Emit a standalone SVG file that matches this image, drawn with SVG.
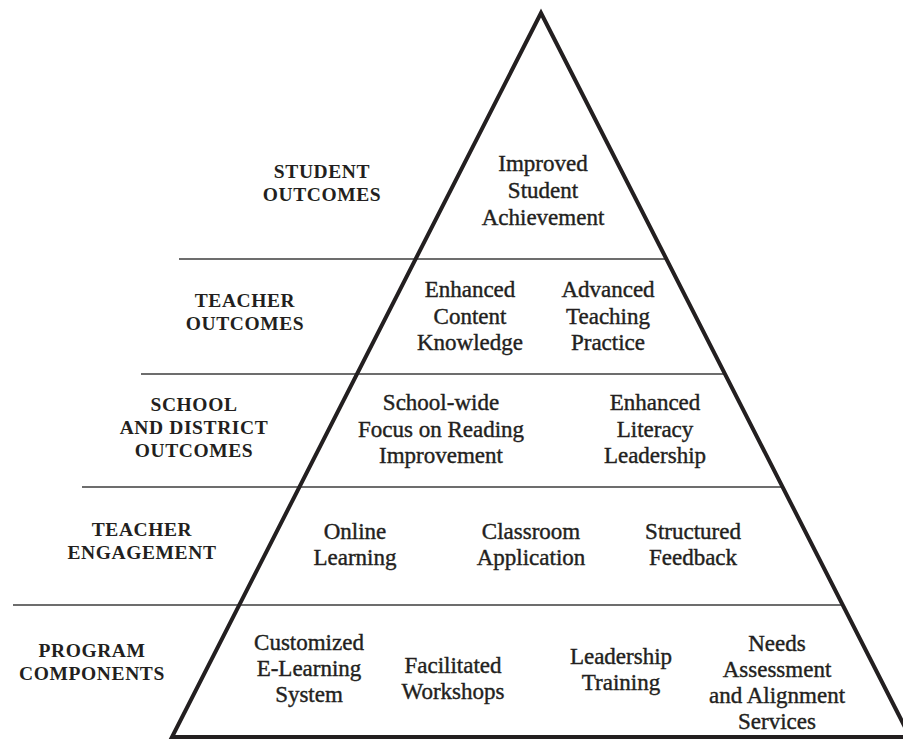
<svg xmlns="http://www.w3.org/2000/svg" width="903" height="741" viewBox="0 0 903 741">
<style>
.lbl{font-family:"Liberation Serif","Times New Roman",serif;font-weight:bold;font-size:19.5px;letter-spacing:0.6px;fill:#231f20;text-anchor:middle}
.in{font-family:"Liberation Serif","Times New Roman",serif;font-size:23px;fill:#231f20;stroke:#231f20;stroke-width:0.4;text-anchor:middle}
.div{stroke:#6d6d6d;stroke-width:2;fill:none}
</style>
<rect width="903" height="741" fill="#fff"/>
<g id="dividers">
<line class="div" x1="179" y1="259" x2="666" y2="259"/>
<line class="div" x1="141" y1="374" x2="725" y2="374"/>
<line class="div" x1="82" y1="487" x2="783" y2="487"/>
<line class="div" x1="13" y1="605" x2="843" y2="605"/>
</g>
<g id="pyramid">
<polygon points="541,13 172,737 910,737" fill="none" stroke="#231f20" stroke-width="4" stroke-linejoin="miter" stroke-miterlimit="20"/>
</g>
<g id="labels">
<text class="lbl"><tspan x="322" y="178">STUDENT</tspan><tspan x="322" y="201">OUTCOMES</tspan></text>
<text class="lbl"><tspan x="245" y="307">TEACHER</tspan><tspan x="245" y="330">OUTCOMES</tspan></text>
<text class="lbl"><tspan x="194" y="411">SCHOOL</tspan><tspan x="194" y="434">AND DISTRICT</tspan><tspan x="194" y="457">OUTCOMES</tspan></text>
<text class="lbl"><tspan x="142" y="536">TEACHER</tspan><tspan x="142" y="559">ENGAGEMENT</tspan></text>
<text class="lbl"><tspan x="92" y="657">PROGRAM</tspan><tspan x="92" y="680">COMPONENTS</tspan></text>
</g>
<g id="student-achievement">
<text class="in"><tspan x="543" y="171">Improved</tspan><tspan x="543" y="198">Student</tspan><tspan x="543" y="225">Achievement</tspan></text>
</g>
<g id="content-knowledge">
<text class="in"><tspan x="470" y="297">Enhanced</tspan><tspan x="470" y="324">Content</tspan><tspan x="470" y="350">Knowledge</tspan></text>
</g>
<g id="teaching-practice">
<text class="in"><tspan x="608" y="297">Advanced</tspan><tspan x="608" y="324">Teaching</tspan><tspan x="608" y="350">Practice</tspan></text>
</g>
<g id="school-wide-focus">
<text class="in"><tspan x="441" y="410">School-wide</tspan><tspan x="441" y="437">Focus on Reading</tspan><tspan x="441" y="463">Improvement</tspan></text>
</g>
<g id="literacy-leadership">
<text class="in"><tspan x="655" y="410">Enhanced</tspan><tspan x="655" y="437">Literacy</tspan><tspan x="655" y="463">Leadership</tspan></text>
</g>
<g id="online-learning">
<text class="in"><tspan x="355" y="539">Online</tspan><tspan x="355" y="565">Learning</tspan></text>
</g>
<g id="classroom-application">
<text class="in"><tspan x="531" y="539">Classroom</tspan><tspan x="531" y="565">Application</tspan></text>
</g>
<g id="structured-feedback">
<text class="in"><tspan x="693" y="539">Structured</tspan><tspan x="693" y="565">Feedback</tspan></text>
</g>
<g id="e-learning-system">
<text class="in"><tspan x="309" y="650">Customized</tspan><tspan x="309" y="676">E-Learning</tspan><tspan x="309" y="702">System</tspan></text>
</g>
<g id="facilitated-workshops">
<text class="in"><tspan x="453" y="673">Facilitated</tspan><tspan x="453" y="699">Workshops</tspan></text>
</g>
<g id="leadership-training">
<text class="in"><tspan x="621" y="664">Leadership</tspan><tspan x="621" y="690">Training</tspan></text>
</g>
<g id="needs-assessment">
<text class="in"><tspan x="777" y="651">Needs</tspan><tspan x="777" y="677">Assessment</tspan><tspan x="777" y="703">and Alignment</tspan><tspan x="777" y="729">Services</tspan></text>
</g>
</svg>
